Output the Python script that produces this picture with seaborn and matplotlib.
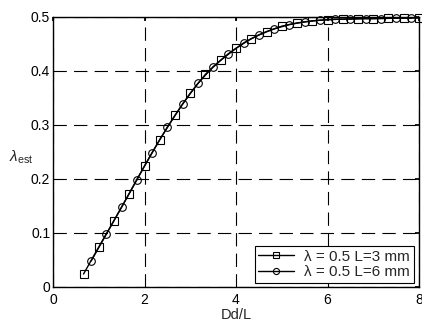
import matplotlib
matplotlib.use("Agg")
import matplotlib.pyplot as plt
import seaborn as sns
import pandas as pd

# Series: L = 3 mm (squares)
x_l3 = [0.667, 1.0, 1.333, 1.667, 2.0, 2.333, 2.667, 3.0, 3.333, 3.667, 4.0,
        4.333, 4.667, 5.0, 5.333, 5.667, 6.0, 6.333, 6.667, 7.0, 7.333, 7.667, 8.0]
y_l3 = [0.024, 0.074, 0.123, 0.173, 0.224, 0.273, 0.318, 0.359, 0.394, 0.420, 0.442,
        0.460, 0.473, 0.483, 0.489, 0.493, 0.495, 0.496, 0.497, 0.497, 0.498, 0.498, 0.498]

# Series: L = 6 mm (circles)
x_l6 = [0.833, 1.167, 1.5, 1.833, 2.167, 2.5, 2.833, 3.167, 3.5, 3.833, 4.167,
        4.5, 4.833, 5.167, 5.5, 5.833, 6.167, 6.5, 6.833, 7.167, 7.5, 7.833]
y_l6 = [0.048, 0.098, 0.148, 0.199, 0.249, 0.296, 0.339, 0.377, 0.408, 0.432, 0.452,
        0.467, 0.478, 0.486, 0.491, 0.494, 0.496, 0.496, 0.497, 0.497, 0.498, 0.498]

labels = ["λ = 0.5 L=3 mm", "λ = 0.5 L=6 mm"]
x_ticks = [0, 2, 4, 6, 8]
y_ticks = [0, 0.1, 0.2, 0.3, 0.4, 0.5]
y_tick_labels = ["0", "0.1", "0.2", "0.3", "0.4", "0.5"]

sns.set_theme(style="white")
plt.rcParams["font.family"] = ["Liberation Sans", "DejaVu Sans"]
plt.rcParams["mathtext.fontset"] = "custom"
plt.rcParams["mathtext.rm"] = "Liberation Sans"
plt.rcParams["mathtext.it"] = "Liberation Sans:italic"

df3 = pd.DataFrame({"x": x_l3, "y": y_l3})
df6 = pd.DataFrame({"x": x_l6, "y": y_l6})

fig = plt.figure(figsize=(4.22, 3.24), dpi=100)
ax = fig.add_axes([53 / 422, 1 - 287 / 324, 366 / 422, 270 / 324])

sns.lineplot(data=df3, x="x", y="y", ax=ax, color="black", linewidth=1.0,
             marker="s", markersize=5.2, markerfacecolor="none",
             markeredgecolor="black", markeredgewidth=0.8, label=labels[0],
             clip_on=False)
sns.lineplot(data=df6, x="x", y="y", ax=ax, color="black", linewidth=1.0,
             marker="o", markersize=5.5, markerfacecolor="none",
             markeredgecolor="black", markeredgewidth=0.8, label=labels[1],
             clip_on=False)

ax.set_xlim(0, 8)
ax.set_ylim(0, 0.5)
ax.set_xticks(x_ticks)
ax.set_yticks(y_ticks)
ax.set_xticklabels([str(t) for t in x_ticks])
ax.set_yticklabels(y_tick_labels)
ax.grid(True, color="black", linestyle=(0, (12, 6.5)), linewidth=0.8)
ax.set_axisbelow(True)
for s in ax.spines.values():
    s.set_color("black")
    s.set_linewidth(1.0)
ax.tick_params(axis="both", direction="in", length=3, labelsize=10,
               colors="black", top=True, right=True, pad=2)
ax.tick_params(axis="x", pad=4)
ax.set_xlabel("Dd/L", fontsize=10.5, labelpad=1)
ax.set_ylabel(r"$\lambda_{\mathrm{est}}$", fontsize=11, rotation=0)
ax.yaxis.label.set_verticalalignment("center")
ax.yaxis.set_label_coords(-0.087, 0.48)

leg = ax.legend(loc="lower right", bbox_to_anchor=(0.986, 0.015), borderaxespad=0,
                fancybox=False, framealpha=1, edgecolor="black", fontsize=11,
                handlelength=2.3, handletextpad=0.7, borderpad=0.25, labelspacing=0.1,
                markerscale=0.8)
leg.get_frame().set_linewidth(0.8)

fig.savefig("out.png", dpi=100)
